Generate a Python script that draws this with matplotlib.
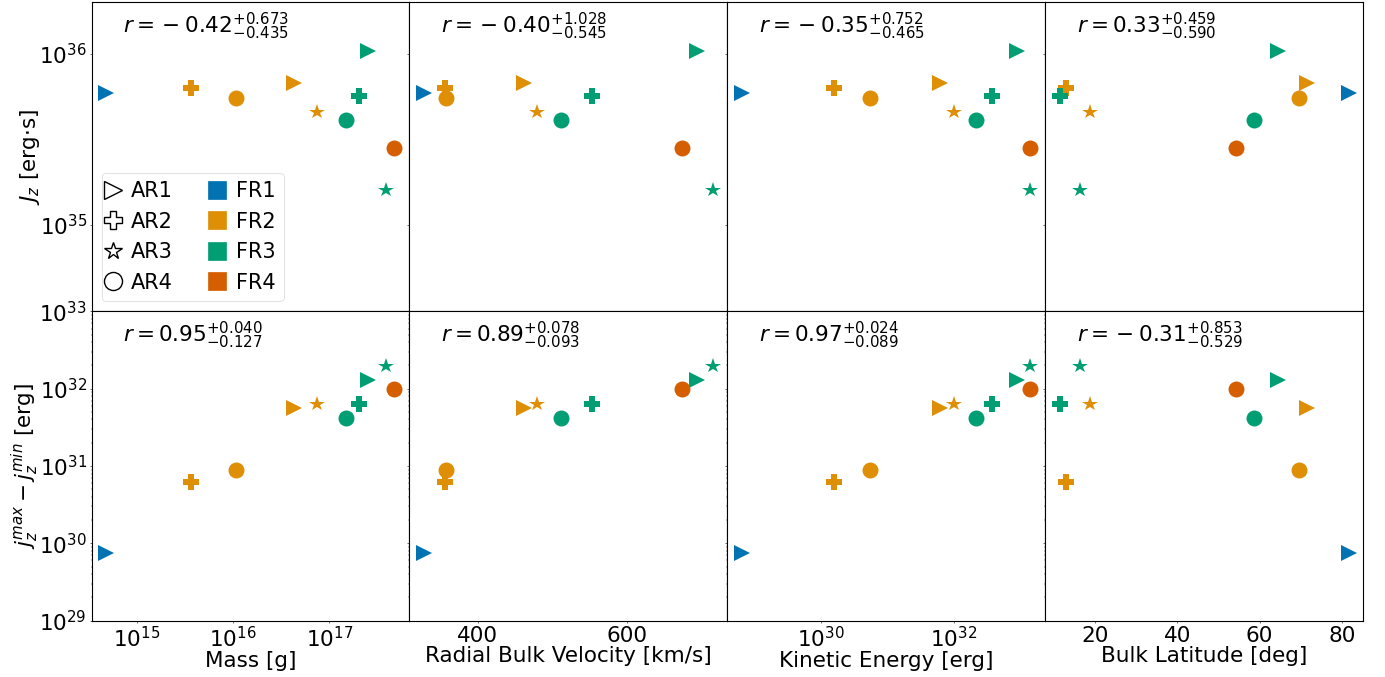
import matplotlib
matplotlib.use("Agg")
import matplotlib.pyplot as plt
import matplotlib.ticker as mticker
from matplotlib.lines import Line2D

# one entry per event: flux rope group and active region
fr_group = ['FR1', 'FR2', 'FR2', 'FR2', 'FR2', 'FR3', 'FR3', 'FR3', 'FR3', 'FR4']
ar_group = ['AR1', 'AR1', 'AR2', 'AR3', 'AR4', 'AR1', 'AR2', 'AR3', 'AR4', 'AR4']

mass = [4.8e14, 4.3e16, 3.7e15, 7.5e16, 1.07e16, 2.55e17, 2.04e17, 3.87e17, 1.49e17, 4.75e17]
velocity = [328.6, 462.5, 355.8, 479.9, 357.2, 693.7, 552.6, 715.9, 511.6, 673.1]
kinetic = [6.6e28, 6.2e31, 1.6e30, 1.0e32, 5.5e30, 8.7e32, 3.7e32, 1.38e33, 2.1e32, 1.38e33]
latitude = [81.7, 71.5, 12.9, 18.8, 69.6, 64.4, 11.5, 16.4, 58.7, 54.3]

jz = [5.9e35, 6.7e35, 6.3e35, 4.58e35, 5.53e35, 1.04e36, 5.65e35, 1.59e35, 4.11e35, 2.83e35]
djz = [7.6e29, 5.65e31, 6.17e30, 6.37e31, 8.8e30, 1.28e32, 6.37e31, 1.97e32, 4.16e31, 9.8e31]

# correlation coefficients with upper / lower errors, row by row
r_top = [(-0.42, 0.673, 0.435), (-0.40, 1.028, 0.545), (-0.35, 0.752, 0.465), (0.33, 0.459, 0.590)]
r_bot = [(0.95, 0.040, 0.127), (0.89, 0.078, 0.093), (0.97, 0.024, 0.089), (-0.31, 0.853, 0.529)]

x_labels = ['Mass [g]', 'Radial Bulk Velocity [km/s]', 'Kinetic Energy [erg]', 'Bulk Latitude [deg]']

fr_colors = {'FR1': '#0173b2', 'FR2': '#de8f05', 'FR3': '#029e73', 'FR4': '#d55e00'}
ar_markers = {'AR1': '>', 'AR2': 'P', 'AR3': '*', 'AR4': 'o'}

# drawn big at low dpi, so ticks and pads come out short next to the text
DPI = 50
TICK_FS = 31
TEXT_FS = 31
LABEL_FS = 31
LEGEND_FS = 30
MS = 23

plt.rcParams['axes.linewidth'] = 1.6


def r_label(r, up, lo):
    # old mathtext look: the minus after "=" gets binary-operator spacing
    if r < 0:
        val = r'=\,{-}\:' + '{:.2f}'.format(abs(r))
    else:
        val = '= {:.2f}'.format(r)
    return r'$r ' + val + r'^{{+{:.3f}}}_{{-{:.3f}}}$'.format(up, lo)


fig, axes = plt.subplots(2, 4, figsize=(1385 / DPI, 677 / DPI), dpi=DPI, sharex='col', sharey='row')
fig.subplots_adjust(left=0.0662, right=0.9839, top=0.997, bottom=0.0832, wspace=0, hspace=0)

x_data = [mass, velocity, kinetic, latitude]
y_data = [jz, djz]
r_data = [r_top, r_bot]

for row in range(2):
    for col in range(4):
        ax = axes[row, col]
        xs = x_data[col]
        ys = y_data[row]
        for i in range(len(xs)):
            ax.plot(xs[i], ys[i], linestyle='none', marker=ar_markers[ar_group[i]],
                    color=fr_colors[fr_group[i]], markersize=MS, markeredgewidth=0)
        r, up, lo = r_data[row][col]
        ax.text(0.1, 0.9, r_label(r, up, lo), transform=ax.transAxes,
                fontsize=TEXT_FS, va='baseline', ha='left')
        ax.tick_params(labelsize=TICK_FS)

# x axes
axes[1, 0].set_xscale('log')
axes[1, 0].set_xlim(3.4e14, 6.8e17)
axes[1, 1].set_xlim(308.6, 734.3)
axes[1, 1].set_xticks([400, 600])
axes[1, 2].set_xscale('log')
axes[1, 2].set_xlim(4.0e28, 2.3e33)
axes[1, 2].set_xticks([1e30, 1e32])
axes[1, 2].xaxis.set_minor_locator(mticker.NullLocator())
axes[1, 3].set_xlim(7.8, 85.1)
axes[1, 3].set_xticks([20, 40, 60, 80])
for col in range(4):
    axes[1, col].set_xlabel(x_labels[col], fontsize=LABEL_FS, labelpad=1)

# y axes
axes[0, 0].set_yscale('log')
axes[0, 0].set_ylim(3.13e34, 2.0e36)
axes[0, 0].set_yticks([1e35, 1e36])
axes[0, 0].yaxis.set_minor_locator(mticker.NullLocator())
axes[0, 0].set_ylabel(r'$J_z$ [erg$\cdot$s]', fontsize=LABEL_FS, labelpad=-4)
axes[1, 0].set_yscale('log')
axes[1, 0].set_ylim(1e29, 1e33)
axes[1, 0].set_ylabel(r'$j_z^{max}-j_z^{min}$ [erg]', fontsize=LABEL_FS, labelpad=-2)

# legend: open markers for active regions, coloured squares for flux ropes
handles = []
labels = []
for ar in ['AR1', 'AR2', 'AR3', 'AR4']:
    handles.append(Line2D([], [], linestyle='none', marker=ar_markers[ar], markersize=26,
                          markerfacecolor='white', markeredgecolor='black', markeredgewidth=2))
    labels.append(ar)
for fr in ['FR1', 'FR2', 'FR3', 'FR4']:
    handles.append(Line2D([], [], linestyle='none', marker='s', markersize=26,
                          color=fr_colors[fr]))
    labels.append(fr)
axes[0, 0].legend(handles, labels, ncol=2, loc='lower left', fontsize=LEGEND_FS,
                  handlelength=0.2, handletextpad=0.8, columnspacing=2.0)

fig.savefig('out.png', dpi=DPI)
